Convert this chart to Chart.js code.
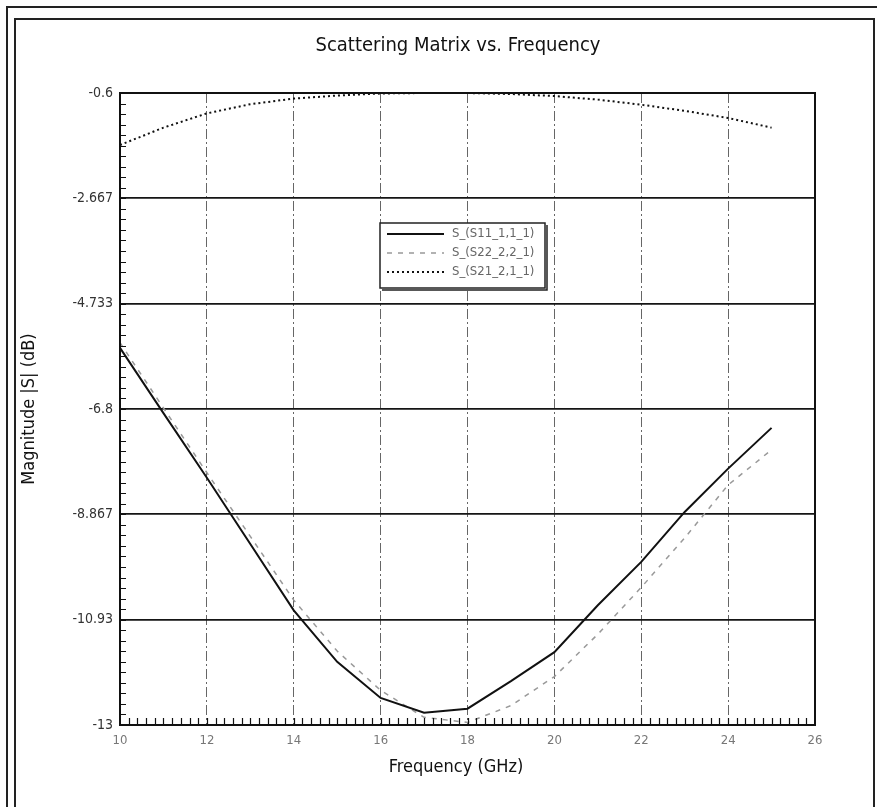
<!DOCTYPE html>
<html>
<head>
<meta charset="utf-8">
<title>Scattering Matrix vs. Frequency</title>
<script src="https://cdn.jsdelivr.net/npm/chart.js@4.4.1/dist/chart.umd.min.js"></script>
<style>
  html, body { margin: 0; padding: 0; background: #fff; }
  #wrap { position: relative; width: 877px; height: 807px; }
</style>
</head>
<body>
<div id="wrap"><canvas id="sparamChart" width="877" height="807"></canvas></div>
<script>
// sweep points (GHz) and magnitudes (dB)
var freqs = [10, 11, 12, 13, 14, 15, 16, 17, 18, 19, 20, 21, 22, 23, 24, 25];
var s11 = [-5.6, -6.88, -8.15, -9.45, -10.75, -11.76, -12.47, -12.76, -12.68, -12.14, -11.57, -10.65, -9.8, -8.82, -7.97, -7.17];
var s22 = [-5.5, -6.78, -8.05, -9.3, -10.55, -11.55, -12.32, -12.85, -12.95, -12.62, -12.05, -11.22, -10.3, -9.33, -8.29, -7.6];
var s21 = [-1.62, -1.28, -1.0, -0.82, -0.71, -0.65, -0.61, -0.6, -0.6, -0.62, -0.66, -0.73, -0.83, -0.95, -1.09, -1.28];

var seriesNames = ["S_(S11_1,1_1)", "S_(S22_2,2_1)", "S_(S21_2,1_1)"];
var xTickValues = [10, 12, 14, 16, 18, 20, 22, 24, 26];
var yTickValues = [-13, -10.93, -8.867, -6.8, -4.733, -2.667, -0.6];
var yTickLabels = ["-13", "-10.93", "-8.867", "-6.8", "-4.733", "-2.667", "-0.6"];

var narrow = "'Liberation Sans Narrow', 'DejaVu Sans Condensed', 'Roboto Condensed', sans-serif";

function toPoints(ys) {
  return freqs.map(function (f, i) { return { x: f, y: ys[i] }; });
}

// double page border + white background
var pageFrame = {
  id: 'pageFrame',
  beforeDraw: function (chart) {
    var ctx = chart.ctx;
    ctx.save();
    ctx.fillStyle = '#fff';
    ctx.fillRect(0, 0, chart.width, chart.height);
    ctx.strokeStyle = '#222';
    ctx.lineWidth = 2;
    ctx.strokeRect(7, 7, chart.width + 20, chart.height + 20);
    ctx.strokeRect(15, 19, chart.width - 18, chart.height + 20);
    ctx.restore();
  }
};

// plot frame, small ticks, titles and the boxed legend
var plotDecor = {
  id: 'plotDecor',
  afterDraw: function (chart) {
    var ctx = chart.ctx, a = chart.chartArea;
    var xs = chart.scales.x, ys = chart.scales.y;
    ctx.save();

    ctx.strokeStyle = '#111';
    ctx.lineWidth = 2;
    ctx.strokeRect(a.left, a.top, a.right - a.left, a.bottom - a.top);

    // minor ticks: 10 per major division on the left and bottom edges
    ctx.lineWidth = 1.2;
    ctx.beginPath();
    var i, p;
    var yStep = (ys.max - ys.min) / 60;
    for (i = 1; i < 60; i++) {
      p = Math.round(ys.getPixelForValue(ys.min + i * yStep)) + 0.5;
      ctx.moveTo(a.left, p);
      ctx.lineTo(a.left + 6, p);
    }
    var xStep = 0.2;
    for (i = 1; i < 80; i++) {
      p = Math.round(xs.getPixelForValue(xs.min + i * xStep)) + 0.5;
      ctx.moveTo(p, a.bottom);
      ctx.lineTo(p, a.bottom - 7);
    }
    ctx.stroke();

    // titles
    ctx.fillStyle = '#111';
    ctx.textAlign = 'center';
    ctx.textBaseline = 'middle';
    ctx.font = '20px ' + narrow;
    ctx.fillText('Scattering Matrix vs. Frequency', 458, 46);
    ctx.font = '18px ' + narrow;
    ctx.fillText('Frequency (GHz)', 456, 767);

    // legend box
    var lx = a.left + 260, ly = a.top + 130, lw = 165, lh = 65;
    ctx.fillStyle = '#fff';
    ctx.fillRect(lx, ly, lw, lh);
    ctx.strokeStyle = '#222';
    ctx.lineWidth = 1.5;
    ctx.strokeRect(lx, ly, lw, lh);
    ctx.beginPath();
    ctx.moveTo(lx + 2, ly + lh + 2);
    ctx.lineTo(lx + lw + 2, ly + lh + 2);
    ctx.lineTo(lx + lw + 2, ly + 2);
    ctx.stroke();

    ctx.textAlign = 'left';
    ctx.font = '13px ' + narrow;
    chart.data.datasets.forEach(function (ds, k) {
      var ry = ly + 11 + k * 19;
      ctx.strokeStyle = ds.borderColor;
      ctx.lineWidth = ds.borderWidth;
      ctx.setLineDash(ds.borderDash || []);
      ctx.beginPath();
      ctx.moveTo(lx + 7, ry);
      ctx.lineTo(lx + 64, ry);
      ctx.stroke();
      ctx.setLineDash([]);
      ctx.fillStyle = '#666';
      ctx.fillText(ds.label, lx + 72, ry);
    });
    ctx.restore();
  }
};

var ctx = document.getElementById('sparamChart').getContext('2d');
new Chart(ctx, {
  type: 'line',
  data: {
    datasets: [
      {
        label: seriesNames[0],
        data: toPoints(s11),
        borderColor: '#111',
        borderWidth: 2,
        pointRadius: 0,
        fill: false
      },
      {
        label: seriesNames[1],
        data: toPoints(s22),
        borderColor: '#999',
        borderWidth: 1.5,
        borderDash: [5, 6],
        pointRadius: 0,
        fill: false
      },
      {
        label: seriesNames[2],
        data: toPoints(s21),
        borderColor: '#111',
        borderWidth: 2,
        borderDash: [2, 3],
        pointRadius: 0,
        fill: false
      }
    ]
  },
  options: {
    responsive: false,
    devicePixelRatio: 1,
    animation: false,
    layout: { padding: { left: 0, top: 93, right: 62, bottom: 0 } },
    plugins: {
      legend: { display: false },
      title: { display: false },
      tooltip: { enabled: false }
    },
    scales: {
      x: {
        type: 'linear',
        min: 10,
        max: 26,
        afterFit: function (scale) { scale.height = 82; },
        afterBuildTicks: function (scale) {
          scale.ticks = xTickValues.map(function (v) { return { value: v }; });
        },
        grid: {
          drawTicks: false,
          lineWidth: 1,
          color: function (c) {
            var v = c.tick && c.tick.value;
            return (v === 10 || v === 26) ? 'rgba(0,0,0,0)' : '#666';
          }
        },
        border: { display: false, dash: [10, 3, 2, 3] },
        ticks: {
          padding: 8,
          color: '#777',
          font: { family: narrow, size: 13 }
        }
      },
      y: {
        type: 'linear',
        min: -13,
        max: -0.6,
        afterFit: function (scale) { scale.width = 120; },
        afterBuildTicks: function (scale) {
          scale.ticks = yTickValues.map(function (v) { return { value: v }; });
        },
        grid: {
          drawTicks: false,
          lineWidth: 1.8,
          color: '#151515'
        },
        border: { display: false },
        ticks: {
          padding: 7,
          color: '#333',
          font: { family: narrow, size: 14 },
          callback: function (value, index) { return yTickLabels[index]; }
        },
        title: {
          display: true,
          text: 'Magnitude |S| (dB)',
          color: '#111',
          padding: 19,
          font: { family: narrow, size: 18 }
        }
      }
    }
  },
  plugins: [pageFrame, plotDecor]
});
</script>
</body>
</html>
